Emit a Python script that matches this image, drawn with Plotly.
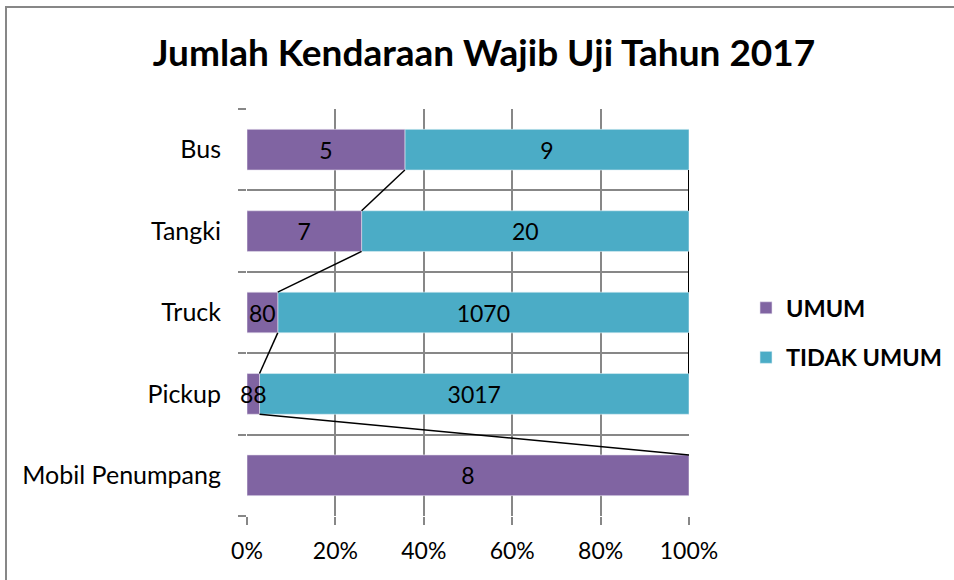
import plotly.graph_objects as go

categories = ["Mobil Penumpang", "Pickup", "Truck", "Tangki", "Bus"]
umum = [8, 88, 80, 7, 5]
tidak_umum = [None, 3017, 1070, 20, 9]
x_ticks = [0, 20, 40, 60, 80, 100]
x_tick_labels = ["0%", "20%", "40%", "60%", "80%", "100%"]

PURPLE = "#8064A2"
TEAL = "#4BACC6"
GRID = "#878787"
FONT = "Lato"

totals = [u + (t or 0) for u, t in zip(umum, tidak_umum)]
pct_u = [u / tot * 100 for u, tot in zip(umum, totals)]
pct_t = [(t / tot * 100) if t else 0 for t, tot in zip(tidak_umum, totals)]
ypos = list(range(len(categories)))

fig = go.Figure()
# TIDAK UMUM segment drawn first (stacked on top of UMUM via base) so UMUM labels sit above it
fig.add_trace(go.Bar(
    y=ypos, x=pct_t, base=pct_u, orientation="h", name="<b>TIDAK UMUM</b>", width=0.5,
    legendgroup="b", legendrank=2,
    marker=dict(color=TEAL, line=dict(color="#dff0f5", width=0.6)),
    text=[str(v) if v else "" for v in tidak_umum], textposition="inside",
    insidetextanchor="middle", constraintext="none", textangle=0, cliponaxis=False,
    textfont=dict(family=FONT, size=23, color="black"),
    hoverinfo="skip",
))
fig.add_trace(go.Bar(
    y=ypos, x=pct_u, base=[0] * len(umum), orientation="h", name="<b>UMUM</b>", width=0.5,
    legendgroup="a", legendrank=1,
    marker=dict(color=PURPLE, line=dict(color="#e6e0ee", width=0.6)),
    text=[str(v) for v in umum], textposition="inside", insidetextanchor="middle",
    constraintext="none", textangle=0, cliponaxis=False,
    textfont=dict(family=FONT, size=23, color="black"),
    hoverinfo="skip",
))

# series lines (connect segment ends between adjacent bars)
for i in range(len(categories) - 1):
    fig.add_trace(go.Scatter(
        x=[pct_u[i], pct_u[i + 1]], y=[i + 0.25, i + 1 - 0.25], mode="lines",
        line=dict(color="black", width=1.5), showlegend=False, hoverinfo="skip",
    ))
    if tidak_umum[i] and tidak_umum[i + 1]:
        fig.add_trace(go.Scatter(
            x=[100, 100], y=[i + 0.25, i + 1 - 0.25], mode="lines",
            line=dict(color="black", width=2), showlegend=False, hoverinfo="skip",
        ))

L, R, T, B = 247, 265, 109, 64
W, H = 954, 580
pw, ph = W - L - R, H - T - B

def px_x(p):
    return (p - L) / pw

def px_y(p):
    return 1 - (p - T) / ph

fig.add_shape(type="rect", xref="paper", yref="paper",
              x0=px_x(6), x1=px_x(W + 10), y0=px_y(7), y1=px_y(H + 10),
              line=dict(color=GRID, width=2), fillcolor="rgba(0,0,0,0)", layer="below")

fig.update_layout(
    width=W, height=H,
    margin=dict(l=L, r=R, t=T, b=B, autoexpand=False),
    barmode="overlay",
    plot_bgcolor="white", paper_bgcolor="white",
    font=dict(family=FONT, color="black"),
    title=dict(text="<b>Jumlah Kendaraan Wajib Uji Tahun 2017</b>",
               x=484 / W, xanchor="center", y=1 - 53 / H, yanchor="middle",
               font=dict(family=FONT, size=37, color="black")),
    legend=dict(xref="container", yref="container",
                x=746 / W, y=1 - 286 / H, xanchor="left", yanchor="top",
                font=dict(family=FONT, size=23.5, color="black"),
                itemwidth=30, tracegroupgap=16,
                bgcolor="rgba(0,0,0,0)"),
    showlegend=True,
)
fig.update_xaxes(
    range=[0, 100], tickvals=x_ticks, ticktext=x_tick_labels,
    showgrid=True, gridcolor=GRID, gridwidth=2,
    ticks="outside", ticklen=8, tickcolor=GRID, tickwidth=2,
    ticklabelstandoff=6,
    tickfont=dict(family=FONT, size=23, color="black"),
    showline=False, zeroline=False, fixedrange=True,
)
fig.update_yaxes(
    range=[-0.5, len(categories) - 0.5], tickvals=ypos, ticktext=categories,
    showgrid=False, ticks="", ticklabelstandoff=25,
    tickfont=dict(family=FONT, size=25, color="black"),
    minor=dict(tickvals=[k - 0.5 for k in range(len(categories) + 1)],
               showgrid=True, gridcolor=GRID, gridwidth=2,
               ticks="outside", ticklen=8, tickcolor=GRID, tickwidth=2),
    showline=False, zeroline=False, fixedrange=True,
)

fig.write_html("out.html")
